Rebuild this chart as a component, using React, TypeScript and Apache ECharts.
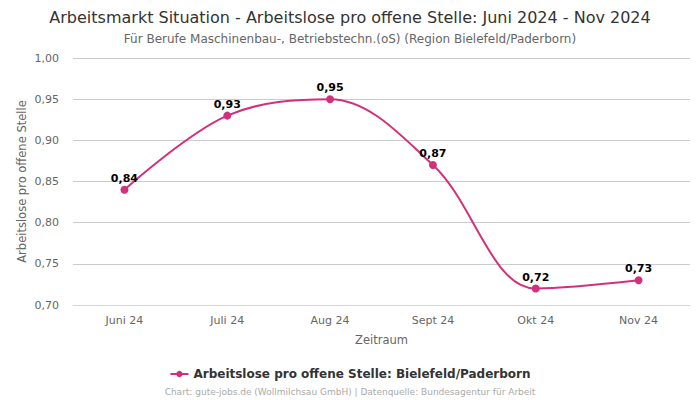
import React, { useEffect, useRef } from "react";
import * as echarts from "echarts";

const categories = ["Juni 24", "Juli 24", "Aug 24", "Sept 24", "Okt 24", "Nov 24"];
const values = [0.84, 0.93, 0.95, 0.87, 0.72, 0.73];
const seriesName = "Arbeitslose pro offene Stelle: Bielefeld/Paderborn";

const FONT = "DejaVu Sans";
const COLOR = "#d3307c";

export default function App() {
  const ref = useRef<HTMLDivElement>(null);
  useEffect(() => {
    if (!ref.current) return;
    const chart = echarts.init(ref.current, undefined, { renderer: "svg" });
    chart.setOption({
      animation: false,
      textStyle: { fontFamily: FONT },
      title: [
        {
          text: "Arbeitsmarkt Situation - Arbeitslose pro offene Stelle: Juni 2024 - Nov 2024",
          left: "center",
          top: 4,
          textStyle: { fontFamily: FONT, fontSize: 16, fontWeight: "normal", color: "#333" },
        },
        {
          text: "Für Berufe Maschinenbau-, Betriebstechn.(oS) (Region Bielefeld/Paderborn)",
          left: "center",
          top: 28,
          textStyle: { fontFamily: FONT, fontSize: 12, fontWeight: "normal", color: "#666" },
        },
        {
          text: "Chart: gute-jobs.de (Wollmilchsau GmbH) | Datenquelle: Bundesagentur für Arbeit",
          left: "center",
          top: 382,
          textStyle: { fontFamily: FONT, fontSize: 9, fontWeight: "normal", color: "#aaa" },
        },
      ],
      legend: {
        data: [seriesName],
        bottom: 15,
        left: "center",
        itemWidth: 18,
        itemHeight: 8,
        textStyle: { fontFamily: FONT, fontSize: 12, fontWeight: "bold", color: "#333" },
      },
      grid: { left: 73, right: 10, top: 58, bottom: 95 },
      xAxis: {
        type: "category",
        data: categories,
        boundaryGap: true,
        name: "Zeitraum",
        nameLocation: "middle",
        nameGap: 29,
        nameMoveOverlap: false,
        nameTextStyle: { fontFamily: FONT, fontSize: 11.5, color: "#666" },
        axisLine: { lineStyle: { color: "#ccd6eb" } },
        axisTick: { show: false },
        axisLabel: { fontFamily: FONT, fontSize: 11, color: "#666", margin: 10 },
      },
      yAxis: {
        type: "value",
        min: 0.7,
        max: 1.0,
        interval: 0.05,
        name: "Arbeitslose pro offene Stelle",
        nameLocation: "middle",
        nameGap: 45,
        nameMoveOverlap: false,
        nameTextStyle: { fontFamily: FONT, fontSize: 11.5, color: "#666" },
        axisLine: { show: false },
        axisTick: { show: false },
        splitLine: { lineStyle: { color: "#cccccc" } },
        axisLabel: {
          fontFamily: FONT,
          fontSize: 11,
          color: "#666",
          margin: 14,
          formatter: (v: number) => v.toFixed(2).replace(".", ","),
        },
      },
      series: [
        {
          name: seriesName,
          type: "line",
          data: values,
          smooth: 0.35,
          symbol: "circle",
          symbolSize: 8,
          itemStyle: { color: COLOR },
          lineStyle: { color: COLOR, width: 2 },
          label: {
            show: true,
            position: "top",
            distance: 2,
            fontFamily: FONT,
            fontSize: 11,
            fontWeight: "bold",
            color: "#000",
            formatter: (p: any) => p.value.toFixed(2).replace(".", ","),
          },
        },
      ],
    });
    return () => chart.dispose();
  }, []);
  return <div ref={ref} style={{ width: 700, height: 400, position: "absolute", left: 0, top: 0 }} />;
}
